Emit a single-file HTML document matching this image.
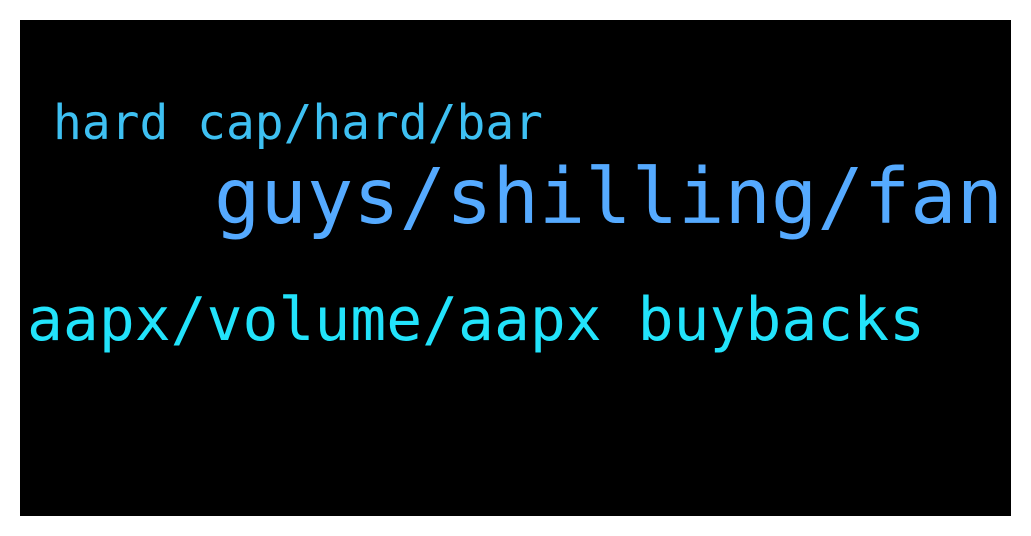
<!DOCTYPE html>
<html><head><meta charset="utf-8"><style>
html,body{margin:0;padding:0;background:#fff;width:1031px;height:536px;overflow:hidden}
svg{display:block}
text{font-family:"DejaVu Sans Mono","Liberation Mono",monospace}
</style></head><body>
<svg width="1031" height="536" xmlns="http://www.w3.org/2000/svg">
<rect x="20" y="20" width="991" height="496" fill="#000"/>
<text x="53" y="139" font-size="48" fill="#3ec0f2" textLength="490" lengthAdjust="spacingAndGlyphs">hard cap/hard/bar</text>
<text x="214" y="223" font-size="77" fill="#55aaff" textLength="789" lengthAdjust="spacingAndGlyphs">guys/shilling/fan</text>
<text x="27" y="340" font-size="60" fill="#22e3fb" textLength="898" lengthAdjust="spacingAndGlyphs">aapx/volume/aapx buybacks</text>
</svg>
</body></html>
